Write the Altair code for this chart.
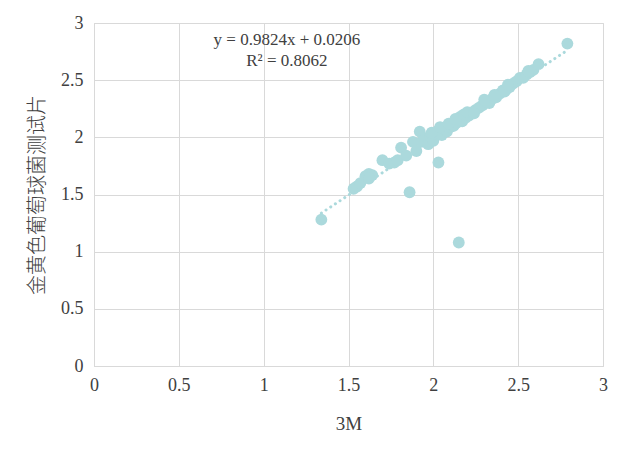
import altair as alt
import pandas as pd

# Measured points (3M vs 金黄色葡萄球菌测试片)
x_vals = [1.34, 1.53, 1.55, 1.57, 1.60, 1.62, 1.64, 1.62,
          1.70, 1.74, 1.77, 1.79, 1.81, 1.84, 1.86, 1.88, 1.90, 1.92, 1.93,
          1.95, 1.97, 1.98, 2.00, 2.01, 2.03, 2.03, 2.05, 2.06, 2.08, 2.10,
          2.12, 2.14, 2.15, 2.16, 2.17, 2.19, 2.21, 2.23, 2.25, 2.27, 2.29,
          2.31, 2.33, 2.35, 2.37, 2.39, 2.41, 2.43, 2.45, 2.47, 2.49, 2.51,
          2.53, 2.55, 2.57, 2.59, 2.62, 2.79,
          1.99, 2.04, 2.09, 2.13, 2.18, 2.20, 2.24, 2.30, 2.36, 2.42, 2.44,
          2.56]
y_vals = [1.28, 1.55, 1.57, 1.60, 1.66, 1.68, 1.67, 1.64,
          1.80, 1.77, 1.78, 1.80, 1.91, 1.84, 1.52, 1.96, 1.88, 2.05, 1.96,
          1.99, 1.94, 2.01, 1.97, 2.03, 1.78, 2.06, 2.02, 2.08, 2.05, 2.09,
          2.10, 2.13, 1.08, 2.18, 2.14, 2.17, 2.19, 2.22, 2.24, 2.26, 2.28,
          2.31, 2.30, 2.34, 2.35, 2.38, 2.41, 2.42, 2.44, 2.47, 2.49, 2.52,
          2.52, 2.55, 2.57, 2.59, 2.64, 2.82,
          2.04, 2.09, 2.12, 2.16, 2.20, 2.22, 2.21, 2.33, 2.37, 2.40, 2.46,
          2.58]

# Trendline as printed on the chart
slope = 0.9824
intercept = 0.0206
trend_x = [1.34, 2.79]

eq_lines = ["y = 0.9824x + 0.0206", "R² = 0.8062"]
eq_x = [1.137, 1.137]
eq_y = [2.855, 2.67]

ticks = [0, 0.5, 1, 1.5, 2, 2.5, 3]

COLOR = "#abd9dc"
GRID = "#d9d9d9"
SERIF = "Liberation Serif"

pts = pd.DataFrame({"x": x_vals, "y": y_vals})
trend = pd.DataFrame({"x": trend_x})
eq = pd.DataFrame({"t": eq_lines, "x": eq_x, "y": eq_y})

xscale = alt.Scale(domain=[0, 3], nice=False, zero=False)
yscale = alt.Scale(domain=[0, 3], nice=False, zero=False)

xaxis = alt.Axis(values=ticks, format="~g", title="3M", grid=True,
                 gridColor=GRID, domainColor=GRID, ticks=False,
                 labelFont=SERIF, labelFontSize=18, labelColor="#404040",
                 labelPadding=10, labelFlush=False,
                 titleFont=SERIF, titleFontSize=19, titleColor="#404040",
                 titleFontWeight="normal", titleY=57, titleBaseline="middle")
yaxis = alt.Axis(values=ticks, format="~g", title="金黄色葡萄球菌测试片",
                 grid=True, gridColor=GRID, domainColor=GRID, ticks=False,
                 labelFont=SERIF, labelFontSize=18, labelColor="#404040",
                 labelPadding=11, labelFlush=False,
                 titleFont="Noto Sans CJK SC", titleFontSize=20,
                 titleColor="#404040", titleFontWeight=300,
                 titleAngle=-90, titleX=-57, titleY=171.5,
                 titleAlign="center", titleBaseline="middle")

line = alt.Chart(trend).transform_calculate(
    y=f"{slope} * datum.x + {intercept}"
).mark_line(color=COLOR, strokeWidth=3, strokeDash=[0.1, 5.5],
            strokeCap="round").encode(
    x=alt.X("x:Q", scale=xscale, axis=xaxis),
    y=alt.Y("y:Q", scale=yscale, axis=yaxis),
)

points = alt.Chart(pts).mark_circle(color=COLOR, opacity=1, size=140).encode(
    x=alt.X("x:Q", scale=xscale),
    y=alt.Y("y:Q", scale=yscale),
)

text = alt.Chart(eq).mark_text(font=SERIF, fontSize=17, color="#404040",
                               align="center", baseline="middle").encode(
    x=alt.X("x:Q", scale=xscale),
    y=alt.Y("y:Q", scale=yscale),
    text="t:N",
)

chart = alt.layer(line, points, text).properties(
    width=509, height=343,
    autosize=alt.AutoSizeParams(type="none"),
    padding={"left": 86, "top": 15, "right": 10, "bottom": 80},
).configure_view(stroke=None).configure(background="white")

chart.save("out.html", embed_options={"renderer": "svg", "actions": False})
